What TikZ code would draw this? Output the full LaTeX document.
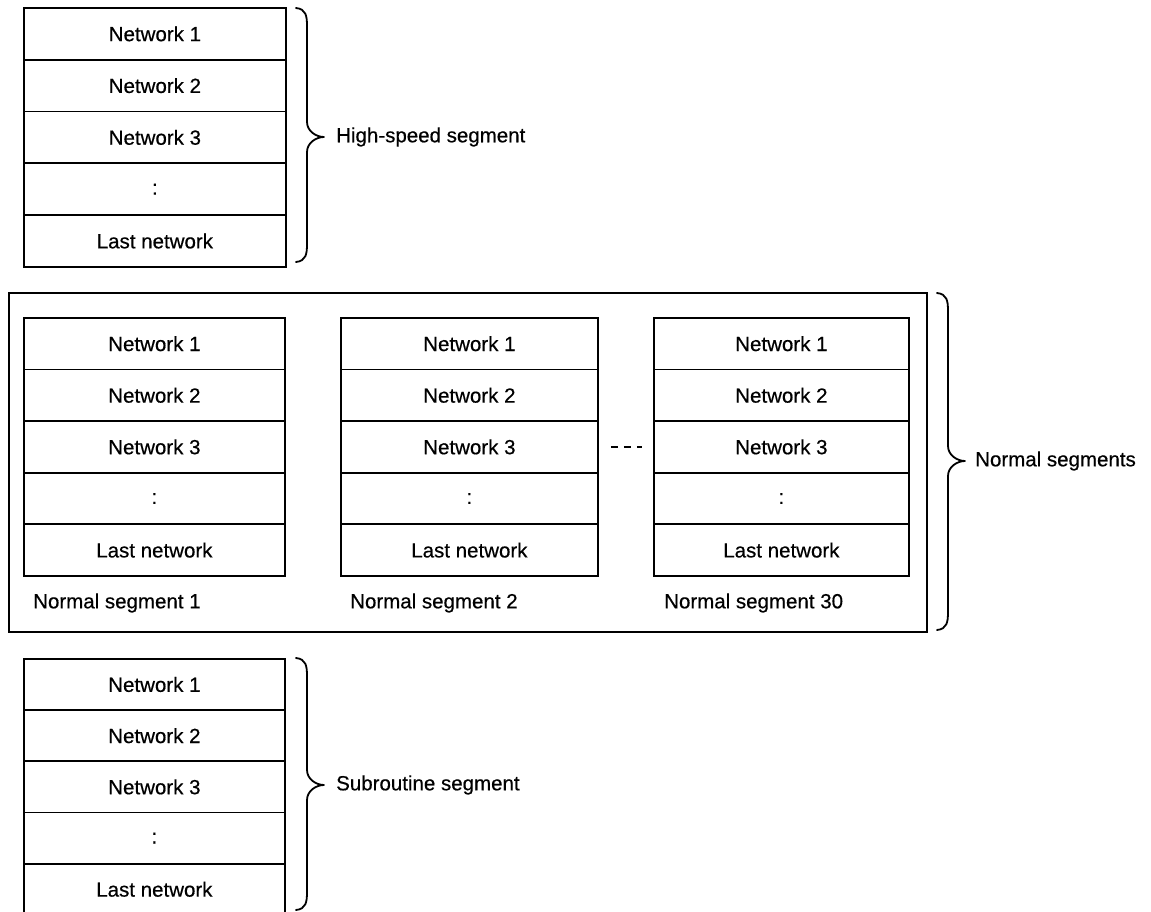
\documentclass[tikz,border=0pt]{standalone}
\usepackage{fontspec}
\setmainfont{Liberation Sans}[FakeBold=0.5]
\newcommand{\vbrace}[4]{% x0, ytop, ybottom, ymid
  \draw[bracestyle] (#1,#2) .. controls (#1+10,#2+1) and (#1+11,#2+8) .. (#1+11,#2+18)
    -- (#1+11,#4-15) .. controls (#1+11,#4-6) and (#1+20,#4) .. (#1+28,#4)
    .. controls (#1+20,#4) and (#1+11,#4+6) .. (#1+11,#4+15)
    -- (#1+11,#3-18) .. controls (#1+11,#3-8) and (#1+10,#3-1) .. (#1,#3);}
\begin{document}
\begin{tikzpicture}[x=1pt,y=-1pt,
  txt/.style={font=\fontsize{20.5}{24}\selectfont, inner sep=0pt},
  cell/.style={draw, line width=1.8pt, inner sep=0pt, anchor=north west,
    font=\fontsize{20.5}{24}\selectfont, minimum height=#1},
  bracestyle/.style={line width=1.8pt, line cap=round, line join=round},
  frame/.style={draw, line width=1.8pt, inner sep=0pt, anchor=north west}]
\useasboundingbox (0,0) rectangle (1151,912);
\foreach \nm/\x/\y/\w/\h in {t/23/7/262/51.8, a/23/317/261/51.6, b/340/317/257/51.6, c/653/317/255/51.6, s/23/658/261/51.2}{
  \foreach \i/\lab in {1/Network 1, 2/Network 2, 3/Network 3, 4/:, 5/Last network}{
    \node[cell=\h pt, minimum width=\w pt] (\nm\i) at (\x,{\y+(\i-1)*\h}) {\lab};
  }
}
% outer frame of normal segments
\node[frame, minimum width=918pt, minimum height=339pt] (frame) at (8,292) {};
% segment labels
\node[txt, anchor=west] (la) at (33,603) {Normal segment 1};
\node[txt, anchor=west] (lb) at (350,603) {Normal segment 2};
\node[txt, anchor=west] (lc) at (664,603) {Normal segment 30};
% dashed connector between segment 2 and 30
\draw[line width=1.8pt, dash pattern=on 7pt off 6pt, shorten <=12pt, shorten >=11pt] (b3.east) -- (c3.west);
% braces
\vbrace{296}{8}{262}{137}
\vbrace{937}{293}{630}{461}
\vbrace{296}{658}{910}{785}
\node[txt, anchor=west] (hs) at (336,137) {High-speed segment};
\node[txt, anchor=west] (ns) at (975,461) {Normal segments};
\node[txt, anchor=west] (ss) at (336,785) {Subroutine segment};
\end{tikzpicture}
\end{document}
